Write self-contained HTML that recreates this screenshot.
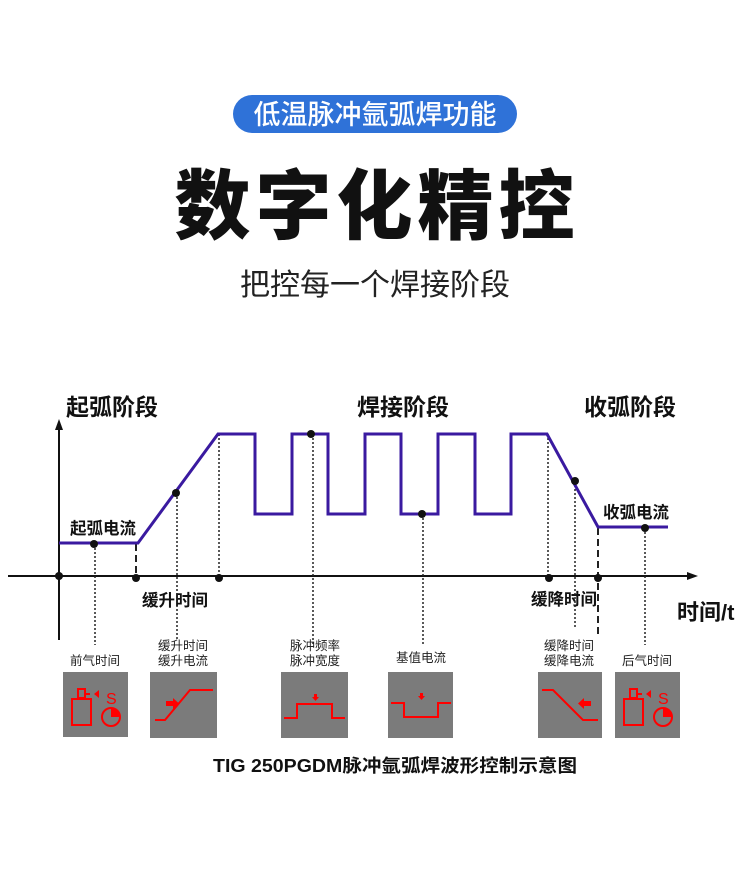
<!DOCTYPE html>
<html><head><meta charset="utf-8"><style>
body{margin:0;background:#fff;}
svg{display:block;font-family:"Liberation Sans","Noto Sans CJK SC",sans-serif;}
</style></head><body>
<svg width="750" height="892" viewBox="0 0 750 892" xmlns="http://www.w3.org/2000/svg">
<rect width="750" height="892" fill="#fff"/>
<rect x="233" y="95" width="284" height="38" rx="19" fill="#2f72d8"/>
<text x="375" y="124" font-size="27" fill="#fff" text-anchor="middle" font-weight="500">低温脉冲氩弧焊功能</text>
<text x="377" y="233" font-size="76" font-weight="900" fill="#111" text-anchor="middle" letter-spacing="5">数字化精控</text>
<text x="375" y="295" font-size="30" fill="#222" text-anchor="middle">把控每一个焊接阶段</text>

<g font-weight="bold" fill="#111">
<text x="66" y="415" font-size="23">起弧阶段</text>
<text x="357" y="415" font-size="23">焊接阶段</text>
<text x="584" y="415" font-size="23">收弧阶段</text>
<text x="70" y="534" font-size="16.5">起弧电流</text>
<text x="603" y="518" font-size="16.5">收弧电流</text>
<text x="142" y="606" font-size="16.5">缓升时间</text>
<text x="531" y="605" font-size="16.5">缓降时间</text>
<text x="677" y="620" font-size="22">时间/t</text>
</g>

<line x1="59" y1="428" x2="59" y2="640" stroke="#111" stroke-width="2"/>
<polygon points="59,419 55,430 63,430" fill="#111"/>
<line x1="8" y1="576" x2="690" y2="576" stroke="#111" stroke-width="2"/>
<polygon points="698,576 687,572 687,580" fill="#111"/>

<g stroke="#222" stroke-width="1.5" stroke-dasharray="2,2" fill="none">
<line x1="95" y1="544" x2="95" y2="645"/>
<line x1="177" y1="493" x2="177" y2="640"/>
<line x1="219" y1="434" x2="219" y2="576"/>
<line x1="313" y1="434" x2="313" y2="645"/>
<line x1="423" y1="514" x2="423" y2="645"/>
<line x1="548" y1="434" x2="548" y2="576"/>
<line x1="575" y1="481" x2="575" y2="628"/>
<line x1="645" y1="528" x2="645" y2="645"/>
</g>
<g stroke="#222" stroke-width="2" stroke-dasharray="7,4" fill="none">
<line x1="136" y1="544" x2="136" y2="576"/>
<line x1="598" y1="528" x2="598" y2="635"/>
</g>

<polyline fill="none" stroke="#3a1aa0" stroke-width="3" points="59,543 138,543 218,434 255,434 255,514 292,514 292,434 328,434 328,514 365,514 365,434 401,434 401,514 438,514 438,434 475,434 475,514 511,514 511,434 547,434 598,527 668,527"/>

<g fill="#111">
<circle cx="94" cy="544" r="4"/><circle cx="176" cy="493" r="4"/><circle cx="311" cy="434" r="4"/>
<circle cx="422" cy="514" r="4"/><circle cx="575" cy="481" r="4"/><circle cx="645" cy="528" r="4"/>
<circle cx="59" cy="576" r="4"/><circle cx="136" cy="578" r="4"/><circle cx="219" cy="578" r="4"/>
<circle cx="549" cy="578" r="4"/><circle cx="598" cy="578" r="4"/>
</g>

<g font-size="12.5" fill="#222" text-anchor="middle">
<text x="95" y="665">前气时间</text>
<text x="183" y="650">缓升时间</text><text x="183" y="665">缓升电流</text>
<text x="315" y="650">脉冲频率</text><text x="315" y="665">脉冲宽度</text>
<text x="421" y="662">基值电流</text>
<text x="569" y="650">缓降时间</text><text x="569" y="665">缓降电流</text>
<text x="647" y="665">后气时间</text>
</g>

<g fill="#7b7b7b">
<rect x="63" y="672" width="65" height="65"/>
<rect x="150" y="672" width="67" height="66"/>
<rect x="281" y="672" width="67" height="66"/>
<rect x="388" y="672" width="65" height="66"/>
<rect x="538" y="672" width="64" height="66"/>
<rect x="615" y="672" width="65" height="66"/>
</g>
<g stroke="#f00" stroke-width="2" fill="none">
<rect x="78" y="689" width="7" height="9"/><rect x="72" y="699" width="19" height="26"/>
<line x1="85" y1="694" x2="90" y2="694"/>
<circle cx="111" cy="717" r="9"/>
<polyline points="155,720 165,720 190,690 213,690"/>
<polyline points="284,718 297,718 297,704 332,704 332,718 345,718"/>
<polyline points="391,703 404,703 404,717 438,717 438,703 451,703"/>
<polyline points="542,690 553,690 583,720 598,720"/>
<rect x="630" y="689" width="7" height="9"/><rect x="624" y="699" width="19" height="26"/>
<line x1="637" y1="694" x2="642" y2="694"/>
<circle cx="663" cy="717" r="9"/>
</g>
<g fill="#f00">
<polygon points="94,694 99,690 99,698"/>
<path d="M111,717 L111,708 A9,9 0 0 1 120,717 Z"/>
<text x="106" y="704" font-size="16">S</text>
<rect x="166" y="701" width="7" height="5"/><polygon points="173,698 179,703.5 173,709"/>
<rect x="314" y="694" width="3" height="4"/><polygon points="312,697 319,697 315.5,701"/>
<rect x="420" y="693" width="3" height="4"/><polygon points="418,696 425,696 421.5,700"/>
<rect x="584" y="701" width="7" height="5"/><polygon points="584,698 578,703.5 584,709"/>
<polygon points="646,694 651,690 651,698"/>
<path d="M663,717 L663,708 A9,9 0 0 1 672,717 Z"/>
<text x="658" y="704" font-size="16">S</text>
</g>

<text x="395" y="772" font-size="18" font-weight="bold" fill="#111" text-anchor="middle" textLength="364" lengthAdjust="spacingAndGlyphs">TIG 250PGDM脉冲氩弧焊波形控制示意图</text>
</svg>
</body></html>
